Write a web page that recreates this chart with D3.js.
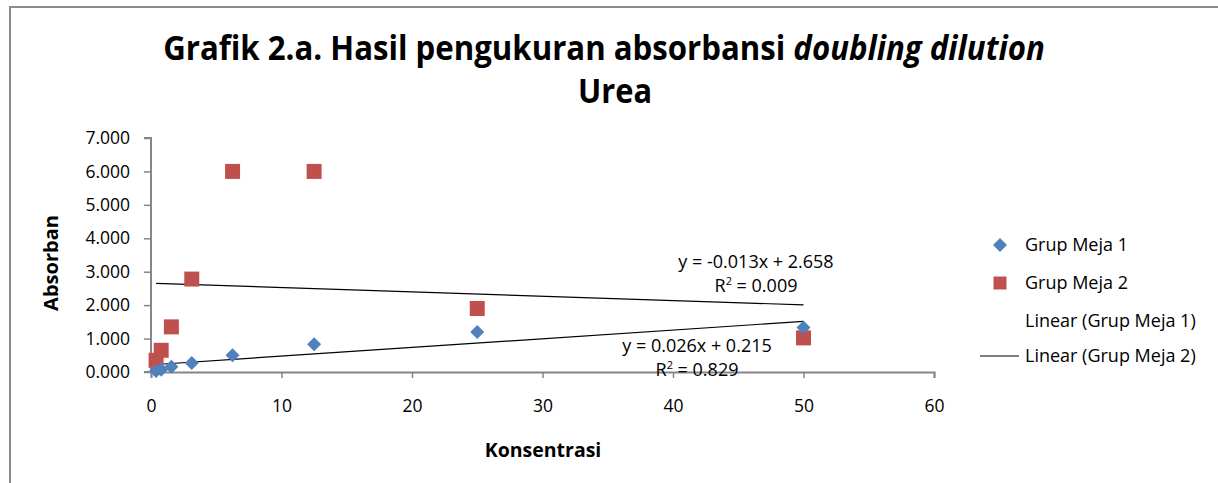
<!DOCTYPE html>
<html>
<head>
<meta charset="utf-8">
<script src="https://cdn.jsdelivr.net/npm/d3@7"></script>
<style>
body { margin: 0; background: #fff; }
text { font-family: "Open Sans", "DejaVu Sans", sans-serif; fill: #000; }
</style>
</head>
<body>
<script>
// konsentrasi (doubling dilution)
var konsentrasi = [0.39, 0.78, 1.5625, 3.125, 6.25, 12.5, 25, 50];
var meja1 = [0.03, 0.07, 0.16, 0.27, 0.50, 0.83, 1.20, 1.33];
var meja2 = [0.35, 0.65, 1.35, 2.78, 6.00, 6.00, 1.90, 1.02];
var xTicks = [0, 10, 20, 30, 40, 50, 60];
var yTicks = [0, 1, 2, 3, 4, 5, 6, 7];
var trend1 = { m: 0.026, b: 0.215, eq: "y = 0.026x + 0.215", r2: "0.829" };
var trend2 = { m: -0.013, b: 2.658, eq: "y = -0.013x + 2.658", r2: "0.009" };
var legendLabels = ["Grup Meja 1", "Grup Meja 2", "Linear (Grup Meja 1)", "Linear (Grup Meja 2)"];

var width = 1218, height = 483;
var blue = "#4F81BD", red = "#C0504D", axisCol = "#868686";

var svg = d3.select("body").append("svg").attr("width", width).attr("height", height);

// frame
svg.append("line").attr("x1", 9).attr("x2", width).attr("y1", 7).attr("y2", 7)
  .attr("stroke", "#8c8c8c").attr("stroke-width", 2);
svg.append("line").attr("x1", 10).attr("x2", 10).attr("y1", 7).attr("y2", height)
  .attr("stroke", "#8c8c8c").attr("stroke-width", 2);

var x = d3.scaleLinear().domain([0, 60]).range([151, 934]);
var y = d3.scaleLinear().domain([0, 7]).range([372, 138]);

// squeeze text horizontally to a target width (title font is narrow in the original)
function squeeze(sel, cx, cy, w) {
  var cur = sel.node().getComputedTextLength();
  sel.attr("x", 0).attr("y", 0)
    .attr("transform", "translate(" + cx + "," + cy + ") scale(" + (w / cur) + ",1)");
}

// title
var t1 = svg.append("text").attr("text-anchor", "middle")
  .attr("font-size", 34).attr("font-weight", "bold");
t1.append("tspan").text("Grafik 2.a. Hasil pengukuran absorbansi ");
t1.append("tspan").attr("font-style", "italic").text("doubling dilution");
squeeze(t1, 604, 60, 882);
var t2 = svg.append("text").attr("text-anchor", "middle")
  .attr("font-size", 34).attr("font-weight", "bold").text("Urea");
squeeze(t2, 615, 103, 74);

// axes
var yAxis = d3.axisLeft(y).tickValues(yTicks).tickFormat(d3.format(".3f")).tickSize(7).tickPadding(14);
var gy = svg.append("g").attr("transform", "translate(151,0)").call(yAxis);
var xAxis = d3.axisBottom(x).tickValues(xTicks).tickSize(6).tickPadding(22);
var gx = svg.append("g").attr("transform", "translate(0,372)").call(xAxis);
[gx, gy].forEach(function(g) {
  g.selectAll("path,line").attr("stroke", axisCol).attr("stroke-width", 1.5);
  g.select(".domain").attr("stroke-width", 2);
  g.selectAll("text").attr("font-size", 17.5).attr("fill", "#1a1a1a")
    .style("font-family", "'Open Sans', sans-serif");
});
gy.select(".domain").attr("d", "M-7," + y(7) + "H0V" + y(0) + "H-7");

// axis titles
svg.append("text").attr("transform", "translate(58,263) rotate(-90)").attr("text-anchor", "middle")
  .attr("font-size", 20).attr("font-weight", "bold").text("Absorban");
svg.append("text").attr("x", 543).attr("y", 457).attr("text-anchor", "middle")
  .attr("font-size", 19.5).attr("font-weight", "bold").text("Konsentrasi");

// trend lines
var xmin = d3.min(konsentrasi), xmax = d3.max(konsentrasi);
[trend1, trend2].forEach(function(t) {
  svg.append("line").attr("x1", x(xmin)).attr("y1", y(t.m * xmin + t.b))
    .attr("x2", x(xmax)).attr("y2", y(t.m * xmax + t.b))
    .attr("stroke", "#000").attr("stroke-width", 1.2);
});

// points
var sym2 = d3.symbol().type(d3.symbolSquare).size(225);
svg.append("g").selectAll("path").data(d3.zip(konsentrasi, meja2)).join("path")
  .attr("d", sym2).attr("fill", red)
  .attr("transform", function(d) { return "translate(" + x(d[0]) + "," + y(d[1]) + ")"; });
var sym1 = d3.symbol().type(d3.symbolSquare).size(98);
svg.append("g").selectAll("path").data(d3.zip(konsentrasi, meja1)).join("path")
  .attr("d", sym1).attr("fill", blue)
  .attr("transform", function(d) { return "translate(" + x(d[0]) + "," + y(d[1]) + ") rotate(45)"; });

// equation labels
function eqLabel(t, cx, cy) {
  svg.append("text").attr("x", cx).attr("y", cy).attr("text-anchor", "middle")
    .attr("font-size", 18).attr("fill", "#1a1a1a").text(t.eq);
  var r = svg.append("text").attr("x", cx).attr("y", cy + 24).attr("text-anchor", "middle")
    .attr("font-size", 18).attr("fill", "#1a1a1a");
  r.append("tspan").text("R");
  r.append("tspan").attr("dy", -7).attr("font-size", 11).text("2");
  r.append("tspan").attr("dy", 7).text(" = " + t.r2);
}
eqLabel(trend2, 756, 268);
eqLabel(trend1, 697, 352);

// legend
var lg = svg.append("g");
var rowsY = [245, 283, 321, 356];
legendLabels.forEach(function(l, i) {
  lg.append("text").attr("x", 1025).attr("y", rowsY[i] + 6).attr("font-size", 18)
    .attr("fill", "#1a1a1a").text(l);
});
lg.append("path").attr("d", sym1).attr("fill", blue)
  .attr("transform", "translate(1000," + rowsY[0] + ") rotate(45)");
lg.append("path").attr("d", d3.symbol().type(d3.symbolSquare).size(169)).attr("fill", red)
  .attr("transform", "translate(1000," + rowsY[1] + ")");
lg.append("line").attr("x1", 980).attr("x2", 1019).attr("y1", rowsY[3]).attr("y2", rowsY[3])
  .attr("stroke", "#000").attr("stroke-width", 1.2);
</script>
</body>
</html>
